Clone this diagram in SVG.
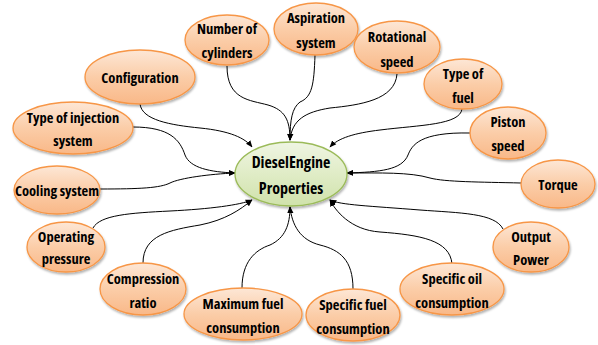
<svg xmlns="http://www.w3.org/2000/svg" width="598" height="345" viewBox="0 0 598 345">
<style>
.n ellipse{fill:url(#og);stroke:#f79646;stroke-width:1.3;filter:url(#sh)}
.c ellipse{fill:url(#gg);stroke:#9bbb59;stroke-width:1.3;filter:url(#sh)}
text{font-family:"Open Sans","Liberation Sans",sans-serif;font-stretch:condensed;font-weight:bold;font-size:14.5px;fill:#000;text-anchor:middle;dominant-baseline:central}
.c text{font-size:16px}
#edges path{fill:none;stroke:#000;stroke-width:1;marker-end:url(#ah)}
</style>
<defs>
<linearGradient id="og" x1="0" y1="0" x2="0" y2="1">
<stop offset="0" stop-color="#fde7d6"/>
<stop offset="0.5" stop-color="#fbcda8"/>
<stop offset="1" stop-color="#f9b888"/>
</linearGradient>
<linearGradient id="gg" x1="0" y1="0" x2="0" y2="1">
<stop offset="0" stop-color="#eff5e3"/>
<stop offset="0.5" stop-color="#e0ecc6"/>
<stop offset="1" stop-color="#d0e2ab"/>
</linearGradient>
<filter id="sh" x="-20%" y="-20%" width="140%" height="150%">
<feDropShadow dx="1" dy="2" stdDeviation="1.2" flood-color="#000" flood-opacity="0.3"/>
</filter>
<marker id="ah" viewBox="0 0 10 10" refX="9" refY="5" markerWidth="7" markerHeight="7" markerUnits="userSpaceOnUse" orient="auto">
<path d="M0,1 L10,5 L0,9 z" fill="#000"/>
</marker>
</defs>
<g id="edges">
<path d="M227,66 C227,100 250,100 268,105 C285,110 290,120 290,140"/>
<path d="M315,55 C314,85 312,97 300,102 C292,108 290,120 290,140"/>
<path d="M397,74 C395,100 360,105 330,108 C305,112 292,120 290,140"/>
<path d="M462,109 C460,125 420,125 380,130 C355,133 338,138 330,147"/>
<path d="M470,133 C420,132 412,145 408,155 C402,170 380,172 347,173"/>
<path d="M521,183 C480,182 445,182 430,178 C410,172 380,173 347,173"/>
<path d="M503,229 C495,213 460,213 420,210 C370,206 340,205 330,200"/>
<path d="M452,264 C450,240 420,235 380,232 C350,230 335,210 330,200"/>
<path d="M353,289 C353,260 340,250 320,245 C300,240 292,225 290,207"/>
<path d="M242,288 C242,262 255,250 270,245 C285,238 290,225 290,207"/>
<path d="M143,263 C143,235 170,230 200,225 C225,220 240,210 252,200"/>
<path d="M93,228 C100,215 130,213 170,211 C210,209 240,205 252,200"/>
<path d="M100,189 C140,189 160,188 170,183 C180,178 210,174 235,173"/>
<path d="M133,127 C170,127 180,140 185,155 C190,168 210,172 235,173"/>
<path d="M140,104 C142,120 170,125 200,128 C230,131 245,138 252,147"/>
</g>
<g id="center" class="c"><ellipse cx="291" cy="174" rx="56" ry="32"/><text x="291" y="162">DieselEngine</text><text x="291" y="188">Properties</text></g>
<g id="n-cylinders" class="n"><ellipse cx="227" cy="40" rx="42" ry="25"/><text x="227" y="28">Number of</text><text x="227" y="52">cylinders</text></g>
<g id="n-aspiration" class="n"><ellipse cx="316" cy="29" rx="42" ry="26"/><text x="316" y="17">Aspiration</text><text x="316" y="42">system</text></g>
<g id="n-rotational" class="n"><ellipse cx="397" cy="47" rx="43" ry="26"/><text x="397" y="36">Rotational</text><text x="397" y="61">speed</text></g>
<g id="n-fuel" class="n"><ellipse cx="463" cy="84" rx="39" ry="25"/><text x="463" y="73">Type of</text><text x="463" y="97">fuel</text></g>
<g id="n-piston" class="n"><ellipse cx="508" cy="133" rx="38" ry="26"/><text x="508" y="121">Piston</text><text x="508" y="145">speed</text></g>
<g id="n-torque" class="n"><ellipse cx="558" cy="184" rx="37" ry="24"/><text x="558" y="184">Torque</text></g>
<g id="n-output" class="n"><ellipse cx="531" cy="247" rx="38" ry="25"/><text x="531" y="236">Output</text><text x="531" y="259">Power</text></g>
<g id="n-oil" class="n"><ellipse cx="452" cy="289" rx="52" ry="26"/><text x="452" y="278">Specific oil</text><text x="452" y="302">consumption</text></g>
<g id="n-sfc" class="n"><ellipse cx="353" cy="315" rx="47" ry="26"/><text x="353" y="304">Specific fuel</text><text x="353" y="328">consumption</text></g>
<g id="n-max" class="n"><ellipse cx="243" cy="314" rx="59" ry="26"/><text x="243" y="303">Maximum fuel</text><text x="243" y="327">consumption</text></g>
<g id="n-compression" class="n"><ellipse cx="143" cy="289" rx="43" ry="26"/><text x="143" y="278">Compression</text><text x="143" y="302">ratio</text></g>
<g id="n-operating" class="n"><ellipse cx="66" cy="247" rx="39" ry="25"/><text x="66" y="236">Operating</text><text x="66" y="258">pressure</text></g>
<g id="n-cooling" class="n"><ellipse cx="57" cy="190" rx="43" ry="24"/><text x="57" y="190">Cooling system</text></g>
<g id="n-injection" class="n"><ellipse cx="73" cy="128" rx="60" ry="26"/><text x="73" y="117">Type of injection</text><text x="73" y="140">system</text></g>
<g id="n-configuration" class="n"><ellipse cx="140" cy="77" rx="55" ry="27"/><text x="140" y="77">Configuration</text></g>
</svg>
